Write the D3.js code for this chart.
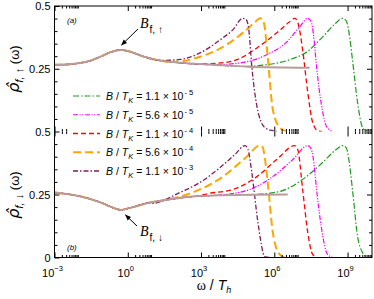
<!DOCTYPE html>
<html>
<head>
<meta charset="utf-8">
<script src="https://cdn.jsdelivr.net/npm/d3@7"></script>
<style>
body { margin: 0; background: #fff; }
text { font-family: "Liberation Sans", Arial, sans-serif; }
</style>
</head>
<body>
<div id="chart"></div>
<script>
// field values B/T_K (mantissa, exponent), in legend order
var fieldMant = ["1.1", "5.6", "1.1", "5.6", "1.1"];
var fieldExp = ["-5", "-5", "-4", "-4", "-3"];

// x ticks (omega / T_h), major every three decades
var xMajor = [1e-3, 1e0, 1e3, 1e6, 1e9];
var xMajorExp = ["-3", "0", "3", "6", "9"];

// [log10(omega/T_h), rho]
// grey reference curve, spin up and spin down
var baseUp = [[-3, 0.266], [-2.5, 0.267], [-2, 0.272], [-1.5, 0.283], [-1.1, 0.299], [-0.7, 0.316], [-0.3, 0.325],
  [0.1, 0.318], [0.6, 0.300], [1.3, 0.283], [2.1, 0.274], [3.5, 0.266], [4.9, 0.258], [7.45, 0.254]];
var baseDown = [[-3, 0.258], [-2.5, 0.252], [-1.95, 0.243], [-1.1, 0.218], [-0.5, 0.194], [-0.3, 0.189], [0.1, 0.197],
  [0.9, 0.218], [1.7, 0.230], [2.55, 0.241], [3.5, 0.246], [5, 0.249], [6.55, 0.25]];

// high frequency part of each field curve (legend order: 1.1e-5 .. 1.1e-3)
var tailUp = [
  [[4.6, 0.259], [5.69, 0.266], [6.63, 0.286], [7.33, 0.317], [7.98, 0.377], [8.5, 0.43], [8.8, 0.451], [8.95, 0.44], [9.05, 0.40], [9.2, 0.286], [9.41, 0.115], [9.61, 0.016], [9.8, 0]],
  [[3.6, 0.266], [4.88, 0.278], [5.69, 0.306], [6.51, 0.357], [7.04, 0.417], [7.37, 0.451], [7.5, 0.44], [7.6, 0.39], [7.73, 0.258], [7.94, 0.099], [8.14, 0.02], [8.39, 0]],
  [[3.0, 0.269], [3.69, 0.272], [4.47, 0.286], [5.29, 0.333], [6.1, 0.393], [6.6, 0.435], [6.84, 0.451], [6.96, 0.435], [7.16, 0.325], [7.37, 0.155], [7.57, 0.036], [7.78, 0.003], [7.95, 0]],
  [[1.7, 0.277], [2.14, 0.279], [2.96, 0.298], [3.9, 0.337], [4.71, 0.393], [5.2, 0.435], [5.41, 0.451], [5.52, 0.445], [5.6, 0.42], [5.73, 0.298], [5.94, 0.087], [6.22, 0.016], [6.51, 0]],
  [[1.3, 0.283], [2.14, 0.287], [2.96, 0.313], [3.78, 0.365], [4.3, 0.405], [4.71, 0.451], [4.84, 0.447], [4.95, 0.41], [5.08, 0.258], [5.29, 0.099], [5.61, 0.016], [5.9, 0.004], [6.1, 0]]
];
var tailDown = [
  [[4.5, 0.248], [5.0, 0.249], [6.22, 0.262], [7.16, 0.31], [7.98, 0.377], [8.55, 0.43], [8.8, 0.444], [8.95, 0.435], [9.05, 0.39], [9.2, 0.27], [9.41, 0.083], [9.61, 0.02], [9.8, 0]],
  [[3.5, 0.246], [4.18, 0.252], [5.0, 0.27], [5.94, 0.321], [6.76, 0.389], [7.37, 0.444], [7.5, 0.433], [7.6, 0.39], [7.73, 0.27], [7.94, 0.111], [8.18, 0.012], [8.4, 0]],
  [[2.6, 0.241], [3.37, 0.255], [4.31, 0.27], [5.29, 0.321], [6.1, 0.389], [6.84, 0.444], [6.96, 0.429], [7.16, 0.27], [7.37, 0.099], [7.57, 0.012], [7.75, 0]],
  [[1.5, 0.228], [2.14, 0.242], [2.96, 0.27], [3.9, 0.321], [4.88, 0.401], [5.41, 0.444], [5.52, 0.438], [5.62, 0.39], [5.73, 0.298], [5.94, 0.099], [6.22, 0.012], [6.43, 0]],
  [[1.0, 0.215], [2.14, 0.258], [2.96, 0.298], [3.78, 0.357], [4.4, 0.41], [4.8, 0.444], [4.92, 0.43], [5.08, 0.337], [5.33, 0.139], [5.61, 0.004], [5.8, 0]]
];

var colors = ["#1e9a1e", "#ff00ff", "#ff0000", "#ffa500", "#7e1e5e"];
var dashes = ["6,2,1.5,2", "5,1.5,1.2,1.5,1.2,1.5", "5,3", "8,4", "5,2,1.5,2"];
var widths = [1.2, 1.2, 1.3, 2, 1.3];

var width = 374, height = 299;
var left = 54.5, right = 372;

var svg = d3.select("#chart").append("svg")
    .attr("width", width)
    .attr("height", height);

var x = d3.scaleLog().domain([1e-3, 1e10]).range([left, right]);

var panels = [
  {id: "up", top: 6, bottom: 131.5, base: baseUp, tails: tailUp, yLabels: [0.25, 0.5], tag: "(a)"},
  {id: "down", top: 131.5, bottom: 257.5, base: baseDown, tails: tailDown, yLabels: [0, 0.25, 0.5], tag: "(b)"}
];

var xMinor = [];
xMajor.forEach(function(v) {
  for (var m = 2; m <= 9; m++) xMinor.push(v * m);
});
xMinor = xMinor.filter(function(v) { return v < 1e10; });

panels.forEach(function(p, pi) {
  var y = d3.scaleLinear().domain([0, 0.5]).range([p.bottom, p.top]);

  svg.append("clipPath").attr("id", "clip-" + p.id)
    .append("rect")
    .attr("x", left).attr("y", p.top)
    .attr("width", right - left).attr("height", p.bottom - p.top);

  var line = d3.line()
    .x(function(d) { return x(Math.pow(10, d[0])); })
    .y(function(d) { return y(d[1]); })
    .curve(d3.curveMonotoneX);

  var g = svg.append("g").attr("clip-path", "url(#clip-" + p.id + ")");

  p.tails.forEach(function(t, i) {
    var pts = p.base.filter(function(d) { return d[0] < t[0][0]; }).concat(t);
    g.append("path")
      .attr("d", line(pts))
      .attr("fill", "none")
      .attr("stroke", colors[i])
      .attr("stroke-width", widths[i])
      .attr("stroke-dasharray", dashes[i]);
  });

  g.append("path")
    .attr("d", line(p.base))
    .attr("fill", "none")
    .attr("stroke", "#b89c9a")
    .attr("stroke-width", 1.8);

  // y axes, ticks pointing inward
  var yl = svg.append("g").attr("transform", "translate(" + left + ",0)")
    .call(d3.axisLeft(y).tickValues(p.yLabels).tickSize(-5).tickPadding(4)
      .tickFormat(function(d) { return d === 0 ? "0" : d3.format("")(d); }));
  yl.select(".domain").remove();
  yl.selectAll("text").attr("font-size", 11).attr("fill", "#000").style("font-family", "Liberation Sans, Arial, sans-serif");

  var ylm = svg.append("g").attr("transform", "translate(" + left + ",0)")
    .call(d3.axisLeft(y).tickValues([0.05, 0.1, 0.15, 0.2, 0.3, 0.35, 0.4, 0.45]).tickSize(-3).tickFormat(""));
  ylm.select(".domain").remove();

  var yr = svg.append("g").attr("transform", "translate(" + right + ",0)")
    .call(d3.axisRight(y).tickValues([0.25]).tickSize(-5).tickFormat(""));
  yr.select(".domain").remove();
  var yrm = svg.append("g").attr("transform", "translate(" + right + ",0)")
    .call(d3.axisRight(y).tickValues([0.05, 0.1, 0.15, 0.2, 0.3, 0.35, 0.4, 0.45]).tickSize(-3).tickFormat(""));
  yrm.select(".domain").remove();

  // x ticks on top and bottom of every panel
  [["top", p.top, d3.axisTop], ["bottom", p.bottom, d3.axisBottom]].forEach(function(s) {
    var a1 = svg.append("g").attr("transform", "translate(0," + s[1] + ")")
      .call(s[2](x).tickValues(xMajor).tickSize(-5).tickFormat(""));
    a1.select(".domain").remove();
    var a2 = svg.append("g").attr("transform", "translate(0," + s[1] + ")")
      .call(s[2](x).tickValues(xMinor).tickSize(-2.5).tickFormat(""));
    a2.select(".domain").remove();
  });

  svg.append("text")
    .attr("x", 67).attr("y", pi === 0 ? 23 : 250)
    .attr("font-size", 8).attr("font-style", "italic")
    .text(p.tag);
});

// frames
svg.append("rect")
  .attr("x", left).attr("y", 6).attr("width", right - left).attr("height", 251.5)
  .attr("fill", "none").attr("stroke", "#000").attr("stroke-width", 1);

// x tick labels
xMajor.forEach(function(v, i) {
  var t = svg.append("text")
    .attr("x", x(v) - 2).attr("y", 277)
    .attr("text-anchor", "middle")
    .attr("font-size", 11);
  t.append("tspan").text("10");
  t.append("tspan").attr("font-size", 7.5).attr("dy", -6).text(xMajorExp[i].replace("-", "\u2212"));
});

// axis titles
var xt = svg.append("text").attr("x", 214).attr("y", 290).attr("text-anchor", "middle").attr("font-size", 14);
xt.append("tspan").style("font-family", "Liberation Serif, serif").text("\u03c9");
xt.append("tspan").text(" / ");
xt.append("tspan").attr("font-style", "italic").text("T");
xt.append("tspan").attr("font-style", "italic").attr("font-size", 9).attr("dy", 3).text("h");

[["\u2191", 69], ["\u2193", 195]].forEach(function(s) {
  var yt = svg.append("text")
    .attr("transform", "translate(19," + s[1] + ") rotate(-90)")
    .attr("text-anchor", "middle")
    .attr("font-size", 16);
  yt.append("tspan").style("font-family", "DejaVu Sans, sans-serif").attr("font-style", "italic").text("\u03c1\u0302");
  yt.append("tspan").attr("font-style", "italic").attr("font-size", 11).attr("dy", 4).text("f, " + s[0]);
  yt.append("tspan").attr("font-size", 13).attr("dy", -4).text(" (\u03c9)");
});

// legend with white background
var lg = svg.append("g");
lg.append("rect").attr("x", 68).attr("y", 85).attr("width", 133).attr("height", 95).attr("fill", "#fff");
fieldMant.forEach(function(m, i) {
  var cy = 96 + i * 18.75;
  lg.append("line")
    .attr("x1", 73).attr("x2", 100).attr("y1", cy).attr("y2", cy)
    .attr("stroke", colors[i])
    .attr("stroke-width", widths[i])
    .attr("stroke-dasharray", dashes[i]);
  var t = lg.append("text").attr("x", 106).attr("y", cy + 4).attr("font-size", 10.5);
  t.append("tspan").attr("font-style", "italic").text("B");
  t.append("tspan").text(" / ");
  t.append("tspan").attr("font-style", "italic").text("T");
  t.append("tspan").attr("font-style", "italic").attr("font-size", 7.5).attr("dy", 3).text("K");
  t.append("tspan").attr("dy", -3).text(" = " + m + " \u00d7 10");
  t.append("tspan").attr("font-size", 7.5).attr("dy", -5).attr("dx", 1).text("- " + fieldExp[i].replace("-", ""));
});

// annotations
svg.append("defs").append("marker")
  .attr("id", "arrow").attr("viewBox", "0 0 10 10").attr("refX", 9).attr("refY", 5)
  .attr("markerWidth", 6).attr("markerHeight", 6).attr("orient", "auto")
  .append("path").attr("d", "M0,1 L10,5 L0,9 z").attr("fill", "#000");

[[138, 29, 121.5, 45, 140, 28, "\u2191"], [137, 226, 125.5, 215, 140, 236, "\u2193"]].forEach(function(a) {
  svg.append("line")
    .attr("x1", a[0]).attr("y1", a[1]).attr("x2", a[2]).attr("y2", a[3])
    .attr("stroke", "#000").attr("stroke-width", 1)
    .attr("marker-end", "url(#arrow)");
  var t = svg.append("text").attr("x", a[4]).attr("y", a[5]).attr("font-size", 14);
  t.append("tspan").style("font-family", "Liberation Serif, serif").attr("font-style", "italic").text("B");
  t.append("tspan").attr("font-size", 10).attr("dy", 5).attr("dx", 1).text("f, " + a[6]);
});
</script>
</body>
</html>
